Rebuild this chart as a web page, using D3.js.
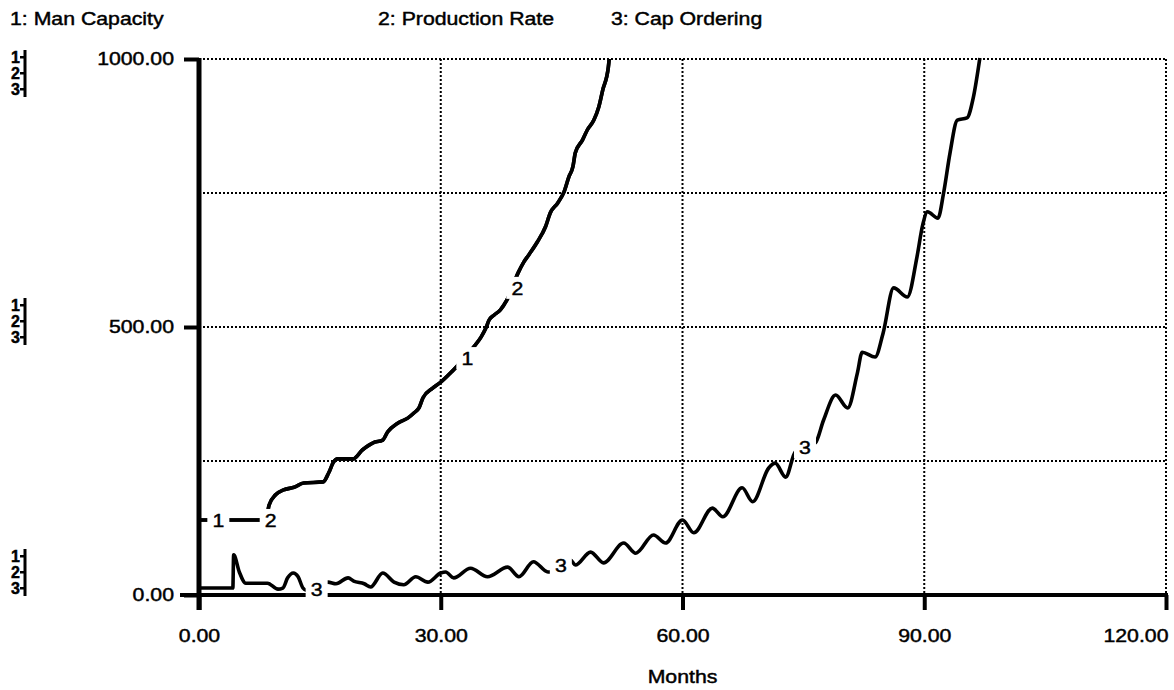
<!DOCTYPE html>
<html>
<head>
<meta charset="utf-8">
<script src="https://cdn.jsdelivr.net/npm/d3@7"></script>
<style>
  html, body { margin: 0; padding: 0; background: #fff; }
  svg { display: block; }
  text { font-family: "Liberation Sans", Arial, sans-serif; font-size: 18.5px; fill: #000; stroke: #000; stroke-width: 0.45px; }
  .sx { transform-box: fill-box; transform: scaleX(1.15); }
  .sx-l { transform-origin: left center; }
  .sx-m { transform-origin: center center; }
  .sx-r { transform-origin: right center; }
  .yaxis text { transform-box: fill-box; transform-origin: right center; transform: scaleX(1.15); }
  .xaxis text { transform-box: fill-box; transform-origin: center center; transform: scaleX(1.15); }
</style>
</head>
<body>
<svg id="chart" width="1174" height="690"></svg>
<script>
// ---------- data ----------
const seriesNames = ["1: Man Capacity", "2: Production Rate", "3: Cap Ordering"];

const manCapacityTime = [0, 8.3, 8.7, 9.5, 10.5, 11.8, 13.0, 15.4, 16.1, 16.7, 17.2, 19.1, 20.3, 21.6, 22.8, 23.4, 24.7, 25.9, 26.7, 27.3, 27.8, 29.0, 30.0, 31.2, 31.9, 34.1, 35.0, 35.6, 36.0, 36.6, 37.4, 38.2, 39.6, 40.3, 40.9, 42.0, 43.0, 43.6, 44.5, 45.3, 45.9, 46.4, 46.7, 47.6, 48.2, 49.0, 49.6, 50.1, 50.8, 50.9];
const manCapacityValues = [140, 140, 168, 187, 196, 201, 209, 211, 228, 248, 254, 254, 271, 284, 289, 304, 321, 330, 340, 349, 368, 386, 397, 414, 425, 463, 481, 498, 513, 522, 532, 550, 601, 621, 634, 659, 687, 713, 731, 752, 780, 799, 825, 849, 868, 886, 910, 942, 985, 1000];

const productionRateTime = manCapacityTime;
const productionRateValues = manCapacityValues;

const capOrderingTime = [0, 4.2, 4.3, 5.0, 5.8, 6.7, 8.5, 9.8, 10.4, 11.0, 11.7, 12.3, 12.9, 13.3, 16.0, 17.0, 18.5, 19.2, 20.5, 21.3, 22.8, 24.2, 25.4, 26.9, 28.4, 30.0, 30.6, 31.6, 33.7, 35.8, 38.3, 39.7, 41.5, 43.3, 43.6, 46.1, 46.7, 48.6, 50.2, 52.7, 54.2, 56.4, 57.9, 60.0, 61.4, 63.7, 65.0, 67.4, 68.7, 70.7, 71.5, 72.8, 74.0, 76.5, 77.5, 79.0, 80.5, 81.7, 82.3, 83.9, 84.9, 86.2, 87.9, 89.1, 89.8, 90.4, 91.7, 92.4, 93.2, 94.1, 95.3, 96.1, 96.9];
const capOrderingValues = [13, 13, 75, 43, 22, 22, 22, 11, 13, 32, 41, 34, 13, 9, 24, 21, 32, 26, 21, 15, 41, 24, 19, 34, 24, 41, 43, 32, 50, 34, 52, 34, 62, 43, 43, 65, 56, 80, 60, 97, 78, 112, 97, 140, 116, 162, 146, 200, 174, 237, 246, 220, 267, 284, 326, 373, 349, 414, 453, 444, 489, 573, 556, 631, 690, 715, 703, 750, 825, 886, 890, 929, 1002];

// curve number labels: [time, value]
const manCapacityLabels = [[2.4, 140], [33.3, 442]];
const productionRateLabels = [[8.9, 140], [39.5, 573]];
const capOrderingLabels = [[14.6, 10], [44.9, 56], [75.2, 276]];

const xTicks = [0, 30, 60, 90, 120];
const yTicks = [0, 500, 1000];
const yGrid = [250, 500, 750, 1000];
const xGrid = [30, 60, 90, 120];
const xTitle = "Months";

// ---------- layout ----------
const svg = d3.select("#chart");
const x = d3.scaleLinear().domain([0, 120]).range([199, 1166]);
const y = d3.scaleLinear().domain([0, 1000]).range([595, 59]);

// ---------- grid ----------
const grid = svg.append("g").attr("stroke", "#000").attr("stroke-width", 2).attr("stroke-dasharray", "2,2").attr("fill", "none");
grid.selectAll("line.h").data(yGrid).join("line")
  .attr("x1", x(0)).attr("x2", x(120)).attr("y1", d => y(d)).attr("y2", d => y(d));
grid.selectAll("line.v").data(xGrid).join("line")
  .attr("x1", d => x(d)).attr("x2", d => x(d)).attr("y1", y(1000)).attr("y2", y(0));

// ---------- axes ----------
const yAxis = svg.append("g").attr("class", "yaxis").attr("transform", `translate(${x(0)},0)`)
  .call(d3.axisLeft(y).tickValues(yTicks).tickFormat(d3.format(".2f")).tickSizeInner(15).tickSizeOuter(0).tickPadding(10));
yAxis.select(".domain").remove();
yAxis.selectAll(".tick line").attr("stroke", "#000").attr("stroke-width", 4);
yAxis.selectAll(".tick text").style("font-size", "18.5px").attr("dy", "0.3em");

const xAxis = svg.append("g").attr("class", "xaxis").attr("transform", `translate(0,${y(0)})`)
  .call(d3.axisBottom(x).tickValues(xTicks).tickFormat(d3.format(".2f")).tickSizeInner(15).tickSizeOuter(0).tickPadding(26));
xAxis.select(".domain").remove();
xAxis.selectAll(".tick line").attr("stroke", "#000").attr("stroke-width", 4);
xAxis.selectAll(".tick text").style("font-size", "18.5px").attr("dy", "0.3em");
xAxis.selectAll(".tick").filter(d => d === 120).select("text").attr("text-anchor", "end").attr("x", 2)
  .style("transform-origin", "right center");

// axis lines (thick)
svg.append("line").attr("x1", x(0)).attr("x2", x(0)).attr("y1", y(1000) - 1).attr("y2", y(0) + 15)
  .attr("stroke", "#000").attr("stroke-width", 5);
svg.append("line").attr("x1", x(0) - 19).attr("x2", x(120) + 2).attr("y1", y(0)).attr("y2", y(0))
  .attr("stroke", "#000").attr("stroke-width", 4);

// ---------- series lines ----------
svg.append("defs").append("clipPath").attr("id", "plotclip")
  .append("rect").attr("x", x(0)).attr("y", y(1000) - 2).attr("width", x(120) - x(0)).attr("height", y(0) - y(1000) + 4);

const line = d3.line().x(d => x(d[0])).y(d => y(d[1])).curve(d3.curveMonotoneX);
const zip = (t, v) => t.map((d, i) => [d, v[i]]);
const series = [
  { t: manCapacityTime, v: manCapacityValues, labels: manCapacityLabels, num: "1" },
  { t: productionRateTime, v: productionRateValues, labels: productionRateLabels, num: "2" },
  { t: capOrderingTime, v: capOrderingValues, labels: capOrderingLabels, num: "3" }
];
const lines = svg.append("g").attr("clip-path", "url(#plotclip)");
series.forEach(s => {
  lines.append("path").datum(zip(s.t, s.v)).attr("d", line)
    .attr("fill", "none").attr("stroke", "#000").attr("stroke-width", 3.6)
    .attr("stroke-linejoin", "round").attr("stroke-linecap", "butt");
});

// ---------- curve labels ----------
const lab = svg.append("g");
series.forEach(s => {
  s.labels.forEach(p => {
    const g = lab.append("g").attr("transform", `translate(${x(p[0])},${y(p[1])})`);
    g.append("rect").attr("x", -11).attr("y", -11).attr("width", 22).attr("height", 22).attr("fill", "#fff");
    g.append("text").attr("class", "sx sx-m").attr("text-anchor", "middle").attr("dy", "0.36em").text(s.num);
  });
});

// ---------- titles ----------
const titleX = [10, 378, 611];
svg.selectAll("text.title").data(seriesNames).join("text")
  .attr("class", "title sx sx-l").attr("x", (d, i) => titleX[i]).attr("y", 25).text(d => d);

svg.append("text").attr("class", "sx sx-m").attr("x", x(60)).attr("y", 683).attr("text-anchor", "middle").text(xTitle);

// ---------- left scale markers ----------
const markerGroups = [57, 305, 556];
markerGroups.forEach(top => {
  const g = svg.append("g");
  ["1", "2", "3"].forEach((n, i) => {
    const cy = top + i * 16;
    g.append("text").attr("x", 20).attr("y", cy).attr("dy", "0.36em").attr("text-anchor", "end")
      .style("font-size", "16px").style("font-weight", "bold").text(n);
    g.append("rect").attr("x", 20).attr("y", cy - 1).attr("width", 4).attr("height", 2.5).attr("fill", "#000");
  });
  g.append("line").attr("x1", 25).attr("x2", 25).attr("y1", top - 7).attr("y2", top + 32 + 8)
    .attr("stroke", "#000").attr("stroke-width", 3);
});
</script>
</body>
</html>
